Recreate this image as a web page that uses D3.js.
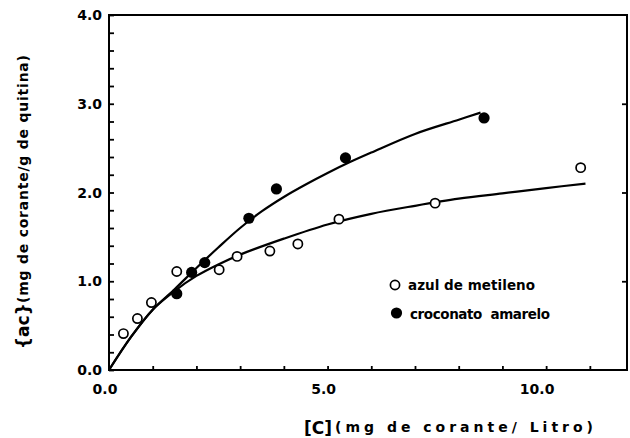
<!DOCTYPE html>
<html><head><meta charset="utf-8">
<script src="https://cdn.jsdelivr.net/npm/d3@7"></script>
<style>body{margin:0;background:#fff}svg{display:block}text{font-family:"DejaVu Sans",sans-serif;font-weight:bold;fill:#000}</style>
</head><body><svg id="c" width="630" height="438"></svg>
<script>
// ---- data ----
const azulX = [0.33, 0.65, 0.97, 1.55, 2.52, 2.93, 3.68, 4.32, 5.26, 7.46, 10.79];
const azulY = [0.41, 0.58, 0.76, 1.11, 1.13, 1.28, 1.34, 1.42, 1.70, 1.88, 2.28];
const crocX = [1.55, 1.89, 2.19, 3.20, 3.83, 5.41, 8.58];
const crocY = [0.86, 1.10, 1.21, 1.71, 2.04, 2.39, 2.84];
const azulFitX = [0, 0.5, 1.0, 1.5, 2.0, 2.5, 3.0, 4.0, 5.0, 6.0, 7.0, 8.0, 9.0, 10.0, 10.9];
const azulFitY = [0, 0.37, 0.68, 0.89, 1.06, 1.19, 1.30, 1.48, 1.64, 1.76, 1.85, 1.93, 1.99, 2.05, 2.10];
const crocFitX = [0, 0.5, 1.0, 1.5, 2.0, 2.5, 3.0, 3.5, 4.0, 4.5, 5.0, 5.5, 6.0, 7.0, 8.0, 8.5];
const crocFitY = [0, 0.37, 0.68, 0.91, 1.15, 1.38, 1.60, 1.79, 1.95, 2.09, 2.22, 2.34, 2.45, 2.66, 2.82, 2.90];
const xTickLabels = ["0.0", "5.0", "10.0"];
const xTickLabelVals = [0, 5, 10];
const yTickLabels = ["0.0", "1.0", "2.0", "3.0", "4.0"];
const yTickLabelVals = [0, 1, 2, 3, 4];
const legendLabels = ["azul de metileno", "croconato  amarelo"];
const xDomain = [0, 11.85];
const yDomain = [0, 4];

const svg = d3.select("#c");
const x = d3.scaleLinear().domain(xDomain).range([109, 627]);
const y = d3.scaleLinear().domain(yDomain).range([370, 15]);

// frame
svg.append("rect").attr("x", x(xDomain[0])).attr("y", y(yDomain[1]))
  .attr("width", x(xDomain[1]) - x(xDomain[0])).attr("height", y(yDomain[0]) - y(yDomain[1]))
  .attr("fill", "none").attr("stroke", "#000").attr("stroke-width", 2);

const yMinor = d3.range(0, 4.001, 0.2);
svg.append("g").attr("transform", `translate(${x(0)},0)`)
  .call(d3.axisRight(y).tickValues(yMinor).tickSize(5).tickFormat(""))
  .call(g => g.select(".domain").remove())
  .call(g => g.selectAll("line").attr("stroke-width", 1.8));
svg.append("g").attr("transform", `translate(${x(xDomain[1])},0)`)
  .call(d3.axisLeft(y).tickValues([1, 2, 3]).tickSize(5).tickFormat(""))
  .call(g => g.select(".domain").remove())
  .call(g => g.selectAll("line").attr("stroke-width", 1.8));
svg.append("g").attr("transform", `translate(0,${y(0)})`)
  .call(d3.axisTop(x).tickValues(d3.range(0, 11.01, 1)).tickSize(4).tickFormat(""))
  .call(g => g.select(".domain").remove())
  .call(g => g.selectAll("line").attr("stroke-width", 1.8));

// tick labels
svg.append("g").selectAll("text").data(yTickLabelVals).join("text")
  .attr("x", 102).attr("y", d => y(d) + 5).attr("text-anchor", "end")
  .attr("font-size", 14).text((d, i) => yTickLabels[i]);
svg.append("g").selectAll("text").data(xTickLabelVals).join("text")
  .attr("x", d => x(d) - (d === 10 ? 9 : 4)).attr("y", 394).attr("text-anchor", "middle")
  .attr("font-size", 14).text((d, i) => xTickLabels[i]);

// axis titles
svg.append("text").attr("x", 304).attr("y", 434).attr("font-size", 17).text("[C]");
svg.append("text").attr("x", 335).attr("y", 432).attr("font-size", 14)
  .attr("textLength", 258).attr("lengthAdjust", "spacing").text("(mg de corante/ Litro)");

svg.append("text").attr("transform", "translate(29,349) rotate(-90)").attr("font-size", 17).text("{ac}");
svg.append("text").attr("transform", "translate(28,303) rotate(-90)").attr("font-size", 14)
  .attr("textLength", 248).attr("lengthAdjust", "spacing").text("(mg de corante/g de quitina)");

// curves
const line = d3.line().x(d => x(d[0])).y(d => y(d[1])).curve(d3.curveCatmullRom.alpha(0.5));
svg.append("path").datum(azulFitX.map((v, i) => [v, azulFitY[i]]))
  .attr("d", line).attr("fill", "none").attr("stroke", "#000").attr("stroke-width", 2.2);
svg.append("path").datum(crocFitX.map((v, i) => [v, crocFitY[i]]))
  .attr("d", line).attr("fill", "none").attr("stroke", "#000").attr("stroke-width", 2.2);

// points
svg.append("g").selectAll("circle").data(azulX.map((v, i) => [v, azulY[i]])).join("circle")
  .attr("cx", d => x(d[0])).attr("cy", d => y(d[1])).attr("r", 4.6)
  .attr("fill", "#fff").attr("stroke", "#000").attr("stroke-width", 1.7);
svg.append("g").selectAll("circle").data(crocX.map((v, i) => [v, crocY[i]])).join("circle")
  .attr("cx", d => x(d[0])).attr("cy", d => y(d[1])).attr("r", 5.6).attr("fill", "#000");

// legend
const lg = svg.append("g");
lg.append("circle").attr("cx", 395).attr("cy", 285).attr("r", 4.6)
  .attr("fill", "#fff").attr("stroke", "#000").attr("stroke-width", 1.7);
lg.append("circle").attr("cx", 396.5).attr("cy", 313).attr("r", 5.6).attr("fill", "#000");
lg.append("text").attr("x", 408).attr("y", 290).attr("font-size", 13.5)
  .attr("textLength", 127).attr("lengthAdjust", "spacing").text(legendLabels[0]);
lg.append("text").attr("x", 410).attr("y", 319).attr("font-size", 13.5)
  .attr("textLength", 140).attr("lengthAdjust", "spacing").attr("xml:space", "preserve").text(legendLabels[1]);
</script></body></html>
